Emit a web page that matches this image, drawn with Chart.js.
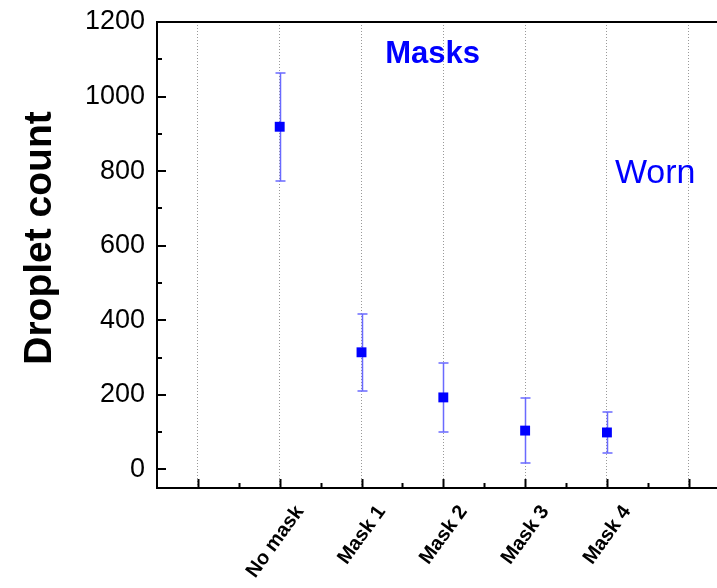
<!DOCTYPE html>
<html><head><meta charset="utf-8">
<script src="https://cdn.jsdelivr.net/npm/chart.js@4"></script>
<style>html,body{margin:0;padding:0;background:#fff;overflow:hidden}#wrap{width:717px;height:588px;position:relative}</style>
</head><body><div id="wrap"><canvas id="c" width="717" height="588"></canvas></div>
<script>
// ---- data ----
const xTickLabels = ['', 'No mask', 'Mask 1', 'Mask 2', 'Mask 3', 'Mask 4', ''];
const categories = ['No mask', 'Mask 1', 'Mask 2', 'Mask 3', 'Mask 4'];
const dropletMean = [919, 314, 193, 104, 99];
const dropletErr = [145, 103, 93, 87, 54];
const yTickValues = [0, 100, 200, 300, 400, 500, 600, 700, 800, 900, 1000, 1100, 1200];
const yTickLabels = ['0', '', '200', '', '400', '', '600', '', '800', '', '1000', '', '1200'];
const yTitle = 'Droplet count';
const annoTexts = ['Masks', 'Worn'];
const annoX = [2.87, 5.59];
const annoY = [1090, 768];

const FONT = "'Liberation Sans', Arial, Helvetica, sans-serif";
const BLUE = '#0000ff';

const points = categories.map((c, i) => ({ x: xTickLabels.indexOf(c), y: dropletMean[i] }));

const decor = {
  id: 'decor',
  beforeDatasetsDraw(chart) {
    const ctx = chart.ctx, xs = chart.scales.x, ys = chart.scales.y;
    ctx.save();
    ctx.strokeStyle = '#6a6aff';
    ctx.lineWidth = 1.5;
    points.forEach((p, i) => {
      const px = Math.round(xs.getPixelForValue(p.x)) + 0.5;
      const top = Math.round(ys.getPixelForValue(p.y + dropletErr[i]));
      const bot = Math.round(ys.getPixelForValue(p.y - dropletErr[i]));
      ctx.beginPath();
      ctx.moveTo(px, top); ctx.lineTo(px, bot);
      ctx.moveTo(px - 5, top); ctx.lineTo(px + 5, top);
      ctx.moveTo(px - 5, bot); ctx.lineTo(px + 5, bot);
      ctx.stroke();
    });
    ctx.restore();
  },
  afterDraw(chart) {
    const ctx = chart.ctx, xs = chart.scales.x, ys = chart.scales.y, a = chart.chartArea;
    ctx.save();
    ctx.strokeStyle = '#000';
    ctx.lineWidth = 2;
    // top frame line
    ctx.beginPath(); ctx.moveTo(a.left - 1, a.top); ctx.lineTo(chart.width, a.top); ctx.stroke();
    // bottom axis continues to the canvas edge
    ctx.beginPath(); ctx.moveTo(a.right, a.bottom); ctx.lineTo(chart.width, a.bottom); ctx.stroke();
    // x ticks (inward)
    for (let v = 0; v <= xs.max + 0.001; v += 0.5) {
      const px = Math.round(xs.getPixelForValue(v)) + 0.5;
      const len = Number.isInteger(v) ? 9 : 5;
      ctx.beginPath(); ctx.moveTo(px, a.bottom); ctx.lineTo(px, a.bottom - len); ctx.stroke();
    }
    // y ticks (inward)
    yTickValues.forEach((v, i) => {
      const py = Math.round(ys.getPixelForValue(v));
      const len = yTickLabels[i] ? 9 : 5;
      ctx.beginPath(); ctx.moveTo(a.left, py); ctx.lineTo(a.left + len, py); ctx.stroke();
    });
    // y title
    ctx.fillStyle = '#000';
    ctx.font = 'bold 39px ' + FONT;
    ctx.textAlign = 'center';
    ctx.textBaseline = 'middle';
    ctx.translate(40, 238);
    ctx.rotate(-Math.PI / 2);
    ctx.fillText(yTitle, 0, 0);
    ctx.setTransform(1, 0, 0, 1, 0, 0);
    // annotations
    ctx.fillStyle = BLUE;
    ctx.textBaseline = 'alphabetic';
    annoTexts.forEach((t, i) => {
      ctx.font = (i === 0 ? 'bold 31px ' : '34px ') + FONT;
      ctx.fillText(t, xs.getPixelForValue(annoX[i]), ys.getPixelForValue(annoY[i]));
    });
    ctx.restore();
  }
};

new Chart(document.getElementById('c'), {
  type: 'scatter',
  plugins: [decor],
  data: {
    datasets: [{
      data: points,
      pointStyle: 'rect',
      pointRadius: 7,
      pointHoverRadius: 7,
      backgroundColor: BLUE,
      borderColor: BLUE,
      borderWidth: 0,
      showLine: false
    }]
  },
  options: {
    responsive: false,
    animation: false,
    layout: { padding: 0 },
    plugins: { legend: { display: false }, tooltip: { enabled: false } },
    scales: {
      x: {
        type: 'linear',
        min: -0.5,
        max: 6.26,
        afterBuildTicks(scale) { scale.ticks = xTickLabels.map((_, i) => ({ value: i })); },
        afterFit(scale) { scale.height = 100; scale.paddingLeft = 0; scale.paddingRight = 0; },
        ticks: {
          autoSkip: false,
          minRotation: 54,
          maxRotation: 54,
          padding: 13,
          labelOffset: 20,
          color: '#000',
          font: { family: FONT, size: 20, weight: 'bold' },
          callback(v) { return xTickLabels[v] || ''; }
        },
        grid: { display: true, drawTicks: false, color: '#999999', lineWidth: 1 },
        border: { display: true, color: '#000', width: 2, dash: [1, 2] }
      },
      y: {
        min: -50,
        max: 1200,
        afterBuildTicks(scale) { scale.ticks = yTickValues.map(v => ({ value: v })); },
        afterFit(scale) { scale.width = 157; scale.paddingTop = 22; scale.paddingBottom = 0; },
        ticks: {
          autoSkip: false,
          padding: 12,
          color: '#000',
          font: { family: FONT, size: 27 },
          callback(v) { const i = yTickValues.indexOf(v); return i >= 0 ? yTickLabels[i] : ''; }
        },
        grid: { display: false, drawTicks: false },
        border: { display: true, color: '#000', width: 2 }
      }
    }
  }
});
</script>
</body></html>
